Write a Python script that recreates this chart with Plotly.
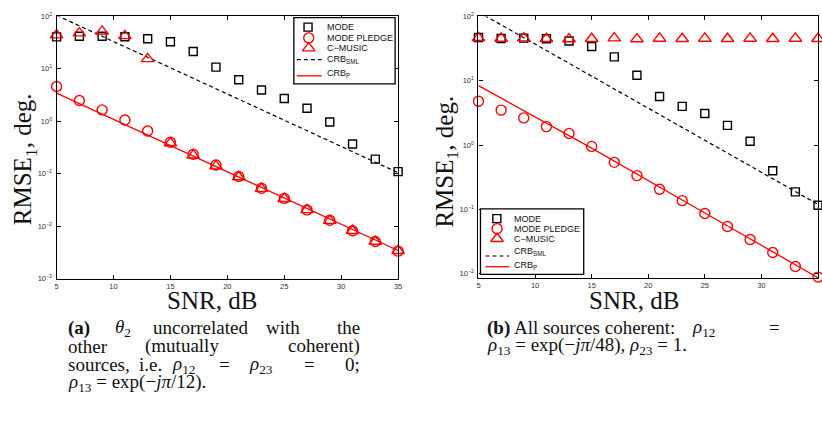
import plotly.graph_objects as go

# ---------------- data ----------------
snr = [5, 7, 9, 11, 13, 15, 17, 19, 21, 23, 25, 27, 29, 31, 33, 35]
crb_snr = [5, 15, 25, 35]

# (a) theta2 uncorrelated
a_mode = [40.7, 42, 42, 41, 37.4, 33, 21.5, 10.8, 6.2, 3.95, 2.72, 1.77, 0.97, 0.37, 0.19, 0.11]
a_pledge = [4.6, 2.5, 1.65, 1.06, 0.655, 0.40, 0.235, 0.147, 0.089, 0.053, 0.034, 0.0205, 0.013, 0.0082, 0.0051, 0.00335]
a_cmusic = [44, 48, 52, 42.5, 15.5, 0.385, 0.225, 0.14, 0.087, 0.052, 0.0335, 0.0205, 0.0128, 0.0082, 0.0051, 0.0034]
a_crb_sml = [105, 10.5, 1.05, 0.105]
a_crb_p = [3.45, 0.345, 0.0345, 0.00345]

# (b) all sources coherent
b_mode = [47, 45.5, 46, 44.9, 41.4, 34, 23.5, 12.2, 5.7, 4.0, 3.1, 2.03, 1.15, 0.40, 0.188, 0.116]
b_pledge = [4.8, 3.5, 2.65, 1.94, 1.52, 0.955, 0.54, 0.336, 0.206, 0.137, 0.0865, 0.0543, 0.0342, 0.0215, 0.013, 0.0089]
b_cmusic = [46.5, 45.5, 46, 45, 44.5, 45, 46, 44.5, 45.5, 45, 45.5, 45, 45.5, 45, 45.5, 45]
b_crb_sml = [117, 11.8, 1.2, 0.12]
b_crb_p = [8.4, 0.9, 0.088, 0.0087]

y_tickvals = [1e-3, 1e-2, 1e-1, 1e0, 1e1, 1e2]
y_ticktext = ["10<sup>−3</sup>", "10<sup>−2</sup>", "10<sup>−1</sup>",
              "10<sup>0</sup>", "10<sup>1</sup>", "10<sup>2</sup>"]
x_tickvals = [5, 10, 15, 20, 25, 30, 35]

legend_names = ["MODE", "MODE PLEDGE", "C\u2212MUSIC", "CRB<sub>SML</sub>", "CRB<sub>P</sub>"]

# ---------------- layout helpers ----------------
W, H = 822, 421
def fx(p):
    return p / W
def fy(p):
    return 1 - p / H

RED = "#ff0000"
sq = dict(symbol="square-open", size=8, color="black", line=dict(width=1.4, color="black"))
ci = dict(symbol="circle-open", size=10, color=RED, line=dict(width=1.4, color=RED))
tr = dict(symbol="triangle-up-open", size=11, color=RED, line=dict(width=1.4, color=RED))
dash_line = dict(color="black", width=1.2, dash="4px,3px")
red_line = dict(color=RED, width=1.3)

fig = go.Figure()

def add_panel(xa, ya, mode, pledge, cmusic, crb_sml, crb_p):
    fig.add_trace(go.Scatter(x=crb_snr, y=crb_sml, mode="lines", line=dash_line,
                             xaxis=xa, yaxis=ya, showlegend=False))
    fig.add_trace(go.Scatter(x=crb_snr, y=crb_p, mode="lines", line=red_line,
                             xaxis=xa, yaxis=ya, showlegend=False))
    fig.add_trace(go.Scatter(x=snr, y=mode, mode="markers", marker=sq, cliponaxis=False,
                             xaxis=xa, yaxis=ya, showlegend=False))
    fig.add_trace(go.Scatter(x=snr, y=pledge, mode="markers", marker=ci, cliponaxis=False,
                             xaxis=xa, yaxis=ya, showlegend=False))
    fig.add_trace(go.Scatter(x=snr, y=cmusic, mode="markers", marker=tr, cliponaxis=False,
                             xaxis=xa, yaxis=ya, showlegend=False))

add_panel("x", "y", a_mode, a_pledge, a_cmusic, a_crb_sml, a_crb_p)
add_panel("x2", "y2", b_mode, b_pledge, b_cmusic, b_crb_sml, b_crb_p)

tickfont = dict(family="Liberation Sans, Arial, sans-serif", size=7.5, color="#333")
common_ax = dict(showline=True, linecolor="black", linewidth=1.1, mirror="ticks",
                 ticks="inside", ticklen=4, tickcolor="black", tickwidth=1,
                 showgrid=False, zeroline=False, tickfont=tickfont, fixedrange=True)

# legend markers on an overlay pixel axis
fig.add_trace(go.Scatter(x=[308.3, 498.5], y=[21.7, 218.3], mode="markers", marker=sq,
                         xaxis="x3", yaxis="y3", showlegend=False, cliponaxis=False))
fig.add_trace(go.Scatter(x=[309, 498.7], y=[32.7, 228.6], mode="markers", marker=ci,
                         xaxis="x3", yaxis="y3", showlegend=False, cliponaxis=False))
fig.add_trace(go.Scatter(x=[309, 498.7], y=[43.3, 239], mode="markers", marker=tr,
                         xaxis="x3", yaxis="y3", showlegend=False, cliponaxis=False))

fig.update_layout(
    width=W, height=H, autosize=False,
    margin=dict(l=0, r=0, t=0, b=0),
    paper_bgcolor="white", plot_bgcolor="rgba(0,0,0,0)",
    showlegend=False,
    xaxis=dict(domain=[fx(55), fx(399)], range=[5, 35], anchor="y",
               tickvals=x_tickvals, **common_ax),
    yaxis=dict(domain=[fy(280), fy(10.7)], type="log", range=[-3, 2], anchor="x",
               tickvals=y_tickvals, ticktext=y_ticktext, ticklabelstandoff=2, **common_ax),
    xaxis2=dict(domain=[fx(480), 1.0], range=[5, 35], anchor="y2",
                tickvals=x_tickvals, **common_ax),
    yaxis2=dict(domain=[fy(279.3), fy(10.7)], type="log", range=[-2.065, 2], anchor="x2",
                tickvals=y_tickvals, ticktext=y_ticktext, ticklabelstandoff=2, **common_ax),
    xaxis3=dict(domain=[0, 1], range=[0, W], anchor="y3", visible=False, fixedrange=True),
    yaxis3=dict(domain=[0, 1], range=[H, 0], anchor="x3", visible=False, fixedrange=True),
)

shapes = []
for (x0, y0, x1, y1) in [(294, 12, 396, 80), (482, 208.3, 586, 275.5)]:
    shapes.append(dict(type="rect", xref="x3", yref="y3", x0=x0, y0=y0, x1=x1, y1=y1,
                       line=dict(color="black", width=1.3), fillcolor="white", layer="below"))
for (x0, x1, yd, yr) in [(297, 322, 55, 71.7), (487, 511, 256.7, 267.7)]:
    shapes.append(dict(type="line", xref="x3", yref="y3", x0=x0, x1=x1, y0=yd, y1=yd,
                       line=dict(color="black", width=1.2, dash="4px,3px")))
    shapes.append(dict(type="line", xref="x3", yref="y3", x0=x0, x1=x1, y0=yr, y1=yr,
                       line=dict(color=RED, width=1.3)))
fig.update_layout(shapes=shapes)

ann = []
legfont = dict(family="Liberation Sans, Arial, sans-serif", size=9, color="#111")
for (lx, ys) in [(325, [21.7, 32.7, 43.3, 54.5, 69]), (514, [218.3, 228.6, 239, 252.5, 266])]:
    for name, yy in zip(legend_names, ys):
        ann.append(dict(xref="x3", yref="y3", x=lx, y=yy, text=name, showarrow=False,
                        xanchor="left", yanchor="middle", font=legfont))

serif = "Liberation Serif, Times New Roman, serif"
titlefont = dict(family=serif, size=25, color="#111")
ann.append(dict(xref="x3", yref="y3", x=23, y=157.5, text="RMSE<sub>1</sub>, deg.", textangle=-90,
                showarrow=False, xanchor="center", yanchor="middle", font=titlefont))
ann.append(dict(xref="x3", yref="y3", x=448, y=160, text="RMSE<sub>1</sub>, deg.", textangle=-90,
                showarrow=False, xanchor="center", yanchor="middle", font=titlefont))
ann.append(dict(xref="x3", yref="y3", x=212, y=302.5, text="SNR, dB",
                showarrow=False, xanchor="center", yanchor="middle", font=titlefont))
ann.append(dict(xref="x3", yref="y3", x=637, y=302.5, text="SNR, dB",
                showarrow=False, xanchor="center", yanchor="middle", font=titlefont))

capfont = dict(family=serif, size=19, color="#111")
def cap(text, x, y, anchor="left"):
    ann.append(dict(xref="x3", yref="y3", x=x, y=y, text=text, showarrow=False,
                    xanchor=anchor, yanchor="middle", font=capfont))

rho = lambda s: "<i>ρ</i><sub>%s</sub>" % s
L1, L2, L3, L4 = 330.5, 349.5, 368.5, 387.5
ax0, aw = 64, 299
# caption (a)
cap("<b>(a)</b>", ax0, L1)
cap("<i>θ</i><sub>2</sub>", ax0 + 47.7, L1)
cap("uncorrelated", ax0 + 86, L1)
cap("with", ax0 + 200, L1)
cap("the", ax0 + aw, L1, "right")
cap("other", ax0, L2)
cap("(mutually", ax0 + 78.2, L2)
cap("coherent)", ax0 + aw, L2, "right")
cap("sources,", ax0, L3)
cap("i.e.", ax0 + 72, L3)
cap(rho("12"), ax0 + 105.4, L3)
cap("=", ax0 + 153, L3)
cap(rho("23"), ax0 + 182.4, L3)
cap("=", ax0 + 238, L3)
cap("0;", ax0 + aw, L3, "right")
cap(rho("13") + " = exp(−<i>jπ</i>/12).", ax0, L4)
# caption (b)
bx0 = 487
cap("<b>(b)</b> All sources coherent:", bx0, L1)
cap(rho("12"), bx0 + 206, L1)
cap("=", bx0 + aw, L1, "right")
cap(rho("13") + " = exp(−<i>jπ</i>/48), " + rho("23") + " = 1.", bx0, L2)

fig.update_layout(annotations=ann)

fig.write_html("out.html")
